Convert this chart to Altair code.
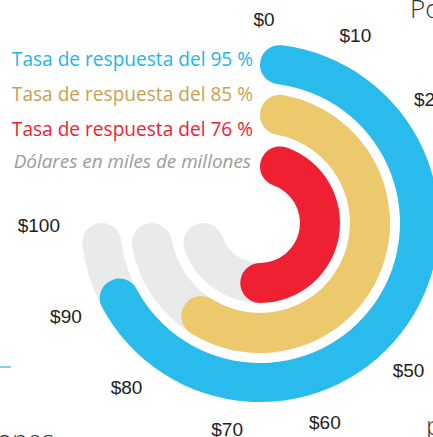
import math
import altair as alt
import pandas as pd

# ---- data ----
series = ["Tasa de respuesta del 95 %", "Tasa de respuesta del 85 %", "Tasa de respuesta del 76 %"]
amounts = [92.2, 82.5, 73.8]          # dólares en miles de millones
track_max = [100, 100, 100]
tick_values = [0, 10, 20, 30, 40, 50, 60, 70, 80, 90, 100]
tick_labels = ["$0", "$10", "$20", "$30", "$40", "$50", "$60", "$70", "$80", "$90", "$100"]
note = "Dólares en miles de millones"

# ---- style ----
arc_colors = ["#29bbec", "#ecc96c", "#ee2032"]
text_colors = ["#22b6ea", "#c9a152", "#ee2233"]
outer_r = [179, 130, 80]
inner_r = [140, 90, 40]
cx, cy = 260, 223
legend_y = [60, 95, 130]
W, H = 433, 437

theta_scale = alt.Scale(domain=[0, 100], range=[0, 1.5 * math.pi])

layers = []
for i, s in enumerate(series):
    df = pd.DataFrame({"series": [s], "start": [0], "value": [amounts[i]], "track": [track_max[i]]})
    base = alt.Chart(df)
    layers.append(
        base.mark_arc(color="#e9eaea", cornerRadius=20).encode(
            theta=alt.Theta("start:Q", scale=theta_scale, stack=None),
            theta2="track:Q",
            radius=alt.value(outer_r[i]),
            radius2=alt.value(inner_r[i]),
            x=alt.value(cx), y=alt.value(cy),
        )
    )
    layers.append(
        base.mark_arc(color=arc_colors[i], cornerRadius=20).encode(
            theta=alt.Theta("start:Q", scale=theta_scale, stack=None),
            theta2="value:Q",
            radius=alt.value(outer_r[i]),
            radius2=alt.value(inner_r[i]),
            x=alt.value(cx), y=alt.value(cy),
        )
    )
    layers.append(
        base.mark_text(align="right", baseline="middle", font="Open Sans", fontSize=19.1, color=text_colors[i]).encode(
            text="series:N", x=alt.value(253), y=alt.value(legend_y[i])
        )
    )

note_df = pd.DataFrame({"t": [note]})
layers.append(
    alt.Chart(note_df).mark_text(align="right", baseline="middle", font="Open Sans", fontSize=18.9,
                                 fontStyle="italic", color="#9c9c9c").encode(
        text="t:N", x=alt.value(251), y=alt.value(162)
    )
)

ticks_df = pd.DataFrame({"v": tick_values, "lab": tick_labels})
tick_base = alt.Chart(ticks_df)
# top label
layers.append(
    tick_base.transform_filter("datum.v == 0").mark_text(
        align="center", baseline="middle", font="Liberation Sans", fontSize=19, color="#222222").encode(
        theta=alt.Theta("v:Q", scale=theta_scale, stack=None), radius=alt.value(203),
        text="lab:N", x=alt.value(cx + 4), y=alt.value(cy))
)
# right / bottom labels
layers.append(
    tick_base.transform_filter("datum.v > 0 && datum.v < 80").mark_text(
        align="center", baseline="middle", font="Liberation Sans", fontSize=19, color="#222222").encode(
        theta=alt.Theta("v:Q", scale=theta_scale, stack=None), radius=alt.value(210),
        text="lab:N", x=alt.value(cx), y=alt.value(cy))
)
# left labels
layers.append(
    tick_base.transform_filter("datum.v >= 80").mark_text(
        align="right", baseline="middle", font="Liberation Sans", fontSize=19, color="#222222").encode(
        theta=alt.Theta("v:Q", scale=theta_scale, stack=None), radius=alt.value(200),
        text="lab:N", x=alt.value(cx), y=alt.value(cy + 3))
)

# fragments of neighbouring panels cut off by the crop
frag_df = pd.DataFrame({"t": ["Por"]})
layers.append(
    alt.Chart(frag_df).mark_text(align="left", baseline="middle", font="Open Sans", fontSize=26,
                                 fontWeight=300, color="#333333").encode(
        text="t:N", x=alt.value(410), y=alt.value(10)
    )
)
frag2 = pd.DataFrame({"t": ["p"]})
layers.append(
    alt.Chart(frag2).mark_text(align="left", baseline="alphabetic", font="Open Sans", fontSize=26,
                               fontWeight=300, color="#333333").encode(
        text="t:N", x=alt.value(426), y=alt.value(435)
    )
)
frag3 = pd.DataFrame({"t": ["ones"]})
layers.append(
    alt.Chart(frag3).mark_text(align="left", baseline="alphabetic", font="Open Sans", fontSize=26,
                               fontWeight=300, color="#333333").encode(
        text="t:N", x=alt.value(-3), y=alt.value(449)
    )
)
layers.append(
    alt.Chart(pd.DataFrame({"a": [0]})).mark_rule(color="#7fd3f0", strokeWidth=2).encode(
        x=alt.value(0), x2=alt.value(11), y=alt.value(367)
    )
)

chart = alt.layer(*layers).properties(
    width=W, height=H, padding=0,
    autosize=alt.AutoSizeParams(type="none"),
).configure_view(stroke=None)

chart.save("out.html", embed_options={"renderer": "svg", "actions": False})
